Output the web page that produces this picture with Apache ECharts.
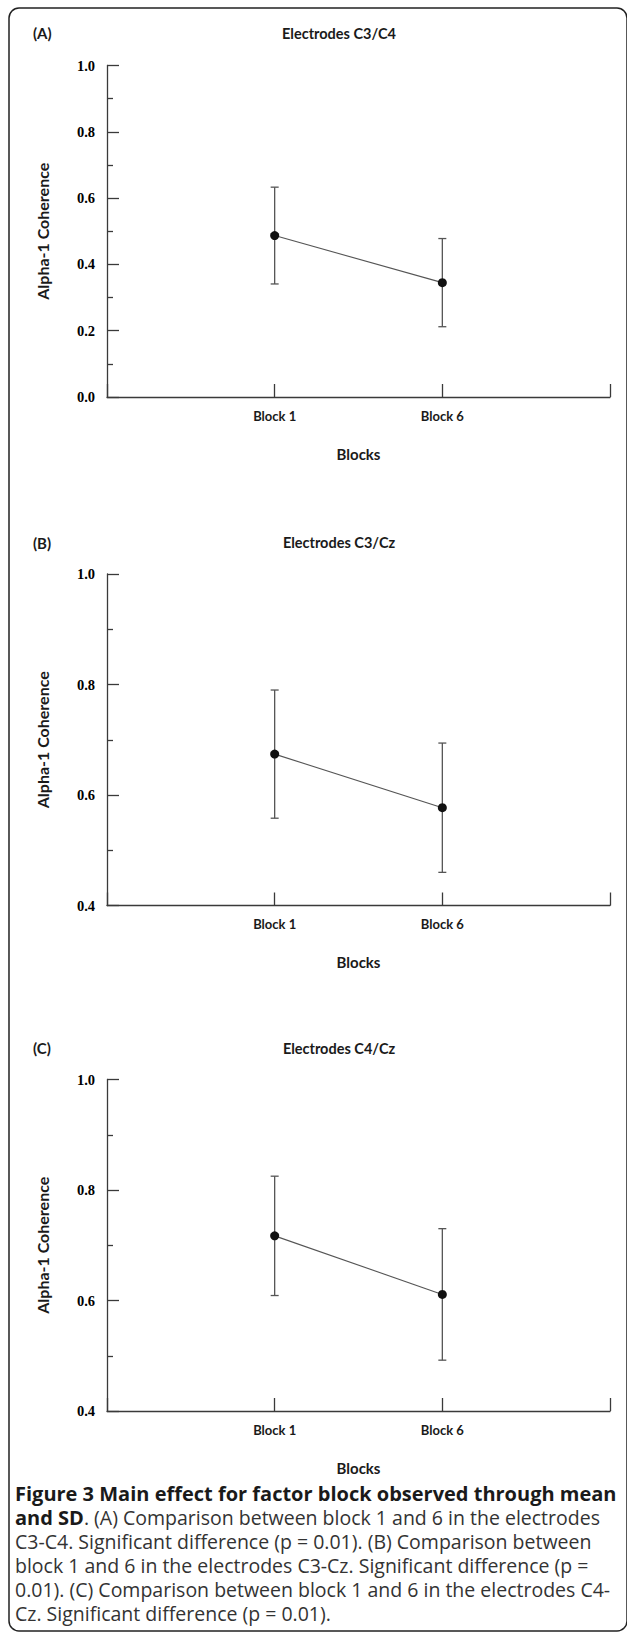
<!DOCTYPE html>
<html>
<head>
<meta charset="utf-8">
<script src="https://cdn.jsdelivr.net/npm/echarts@6/dist/echarts.min.js"></script>
<style>
html,body{margin:0;padding:0;background:#fff;}
#chart{width:627px;height:1652px;}
</style>
</head>
<body>
<div id="chart"></div>
<script>
// ---- data ----
const panelLabels = ['(A)', '(B)', '(C)'];
const panelTitles = ['Electrodes C3/C4', 'Electrodes C3/Cz', 'Electrodes C4/Cz'];
const categories = ['Block 1', 'Block 6'];
const meanA = [0.487, 0.345];
const sdA = [0.146, 0.133];
const meanB = [0.674, 0.577];
const sdB = [0.116, 0.117];
const meanC = [0.717, 0.611];
const sdC = [0.108, 0.119];
const yMinA = 0.0, yMinB = 0.4, yMinC = 0.4;
const yMax = 1.0;
const yAxisName = 'Alpha-1 Coherence';
const xAxisName = 'Blocks';
const captionBold1 = 'Figure 3 Main effect for factor block observed through mean';
const captionBold2 = 'and SD';
const captionLines = [
  '. (A) Comparison between block 1 and 6 in the electrodes',
  'C3-C4. Significant difference (p = 0.01). (B) Comparison between',
  'block 1 and 6 in the electrodes C3-Cz. Significant difference (p =',
  '0.01). (C) Comparison between block 1 and 6 in the electrodes C4-',
  'Cz. Significant difference (p = 0.01).'
];

// ---- layout ----
const means = [meanA, meanB, meanC];
const sds = [sdA, sdB, sdC];
const yMins = [yMinA, yMinB, yMinC];
const gridTops = [65.5, 574, 1079.5];
const titleYs = [33, 542.5, 1048];
const plotH = 331.5;
const gridLeft = 107, gridW = 503;
const axisColor = '#3a3a3a';
const sansFont = 'Lato';

const chart = echarts.init(document.getElementById('chart'), null, {renderer: 'svg', width: 627, height: 1652});

const grids = [], xAxes = [], yAxes = [], series = [], graphics = [];

for (let p = 0; p < 3; p++) {
  grids.push({left: gridLeft, top: gridTops[p], width: gridW, height: plotH, containLabel: false});
  xAxes.push({
    type: 'value', gridIndex: p, min: 0, max: categories.length + 1, interval: 1,
    splitLine: {show: false},
    axisLine: {lineStyle: {color: axisColor, width: 1.3}},
    axisTick: {inside: true, length: 13, lineStyle: {color: axisColor, width: 1.3}},
    axisLabel: {
      margin: 12, color: '#1a1a1a', fontFamily: sansFont, fontWeight: 'bold', fontSize: 13,
      formatter: v => categories[v - 1] || ''
    },
    name: xAxisName, nameLocation: 'middle', nameGap: 49,
    nameTextStyle: {color: '#1a1a1a', fontFamily: sansFont, fontWeight: 'bold', fontSize: 15}
  });
  yAxes.push({
    type: 'value', gridIndex: p, min: yMins[p], max: yMax, interval: 0.2,
    splitLine: {show: false},
    axisLine: {show: true, lineStyle: {color: axisColor, width: 1.3}},
    axisTick: {show: true, inside: true, length: 12, lineStyle: {color: axisColor, width: 1.3}},
    minorTick: {show: true, splitNumber: 2, length: 6, lineStyle: {color: axisColor, width: 1.3}},
    axisLabel: {
      margin: 12, color: '#000', fontFamily: 'Liberation Serif', fontWeight: 'bold', fontSize: 14.5,
      formatter: v => v.toFixed(1)
    },
    name: yAxisName, nameLocation: 'middle', nameGap: 57,
    nameTextStyle: {color: '#1a1a1a', fontFamily: sansFont, fontWeight: 'bold', fontSize: 16}
  });
  const m = means[p], s = sds[p];
  series.push({
    type: 'custom', xAxisIndex: p, yAxisIndex: p, z: 2,
    data: categories.map((c, i) => [i + 1, m[i] - s[i], m[i] + s[i]]),
    renderItem: (params, api) => {
      const x = api.value(0);
      const lo = api.coord([x, api.value(1)]);
      const hi = api.coord([x, api.value(2)]);
      const cw = 4;
      const st = {stroke: '#555', lineWidth: 1.3};
      return {type: 'group', children: [
        {type: 'line', shape: {x1: hi[0], y1: hi[1], x2: lo[0], y2: lo[1]}, style: st},
        {type: 'line', shape: {x1: hi[0] - cw, y1: hi[1], x2: hi[0] + cw, y2: hi[1]}, style: st},
        {type: 'line', shape: {x1: lo[0] - cw, y1: lo[1], x2: lo[0] + cw, y2: lo[1]}, style: st}
      ]};
    }
  });
  series.push({
    type: 'line', xAxisIndex: p, yAxisIndex: p, z: 3,
    data: categories.map((c, i) => [i + 1, m[i]]),
    symbol: 'circle', symbolSize: 9, showSymbol: true,
    itemStyle: {color: '#111'},
    lineStyle: {color: '#555', width: 1.1},
    animation: false
  });
  graphics.push({type: 'text', x: 33, y: titleYs[p],
    style: {text: panelLabels[p], font: 'bold 15px ' + sansFont, fill: '#1a1a1a', textAlign: 'left', textVerticalAlign: 'middle', align: 'left', verticalAlign: 'middle'}});
  graphics.push({type: 'text', x: 339, y: titleYs[p],
    style: {text: panelTitles[p], font: 'bold 14.5px ' + sansFont, fill: '#1a1a1a', textAlign: 'center', textVerticalAlign: 'middle', align: 'center', verticalAlign: 'middle'}});
}

// border
graphics.push({type: 'rect', shape: {x: 9, y: 8, width: 618, height: 1623, r: 10},
  style: {fill: 'none', stroke: '#222', lineWidth: 1.5}, z: -1});

// caption
const capY0 = 1493, capDy = 24, capX = 15;
const capFont = 'Open Sans';
const capBoldSize = 20, capSize = 19.5;
graphics.push({type: 'text', x: capX, y: capY0,
  style: {text: captionBold1, font: 'bold ' + capBoldSize + 'px "' + capFont + '"', fill: '#1a1a1a', textAlign: 'left', textVerticalAlign: 'middle', align: 'left', verticalAlign: 'middle'}});
graphics.push({type: 'text', x: capX, y: capY0 + capDy,
  style: {
    text: '{b|' + captionBold2 + '}{r|' + captionLines[0] + '}',
    rich: {
      b: {fontFamily: capFont, fontWeight: 'bold', fontSize: capBoldSize, fill: '#1a1a1a', color: '#1a1a1a'},
      r: {fontFamily: capFont, fontSize: capSize, fill: '#333', color: '#333'}
    },
    textAlign: 'left', textVerticalAlign: 'middle', align: 'left', verticalAlign: 'middle'
  }});
for (let i = 1; i < captionLines.length; i++) {
  graphics.push({type: 'text', x: capX, y: capY0 + capDy * (i + 1),
    style: {text: captionLines[i], font: capSize + 'px "' + capFont + '"', fill: '#333', textAlign: 'left', textVerticalAlign: 'middle', align: 'left', verticalAlign: 'middle'}});
}

chart.setOption({
  animation: false,
  backgroundColor: '#fff',
  grid: grids, xAxis: xAxes, yAxis: yAxes, series: series,
  graphic: {elements: graphics}
});
</script>
</body>
</html>
